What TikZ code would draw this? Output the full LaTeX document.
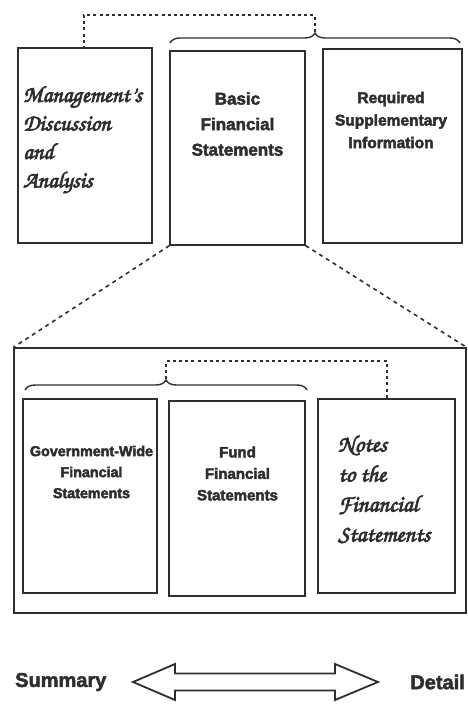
\documentclass[tikz,border=0pt]{standalone}
\usepackage[T1,TU]{fontenc}
\usepackage{fontspec}
\setmainfont{Liberation Sans}
\usetikzlibrary{decorations.pathreplacing}
\definecolor{ink}{HTML}{2E2E2E}
\newcommand{\scriptfnt}{\fontencoding{T1}\fontfamily{pzc}\fontseries{mb}\fontshape{it}\selectfont}
\newcommand{\fakebold}{\special{pdf:literal direct 2 Tr 0.75 w 0.18 0.18 0.18 RG}}
\newcommand{\semibold}{\special{pdf:literal direct 2 Tr 0.45 w 0.18 0.18 0.18 RG}}
\newcommand{\fakeboldoff}{\special{pdf:literal direct 0 Tr}}
\tikzset{
  box/.style={draw=ink, line width=1.3pt, rectangle, inner sep=0pt},
  thickbox/.style={box, line width=2pt},
  sans/.style={text=ink, align=center, inner sep=0pt},
  scr/.style={text=ink, align=left, inner sep=0pt, anchor=west},
  dotline/.style={draw=ink, line width=1.8pt, dash pattern=on 3pt off 3.2pt},
  dashline/.style={draw=ink, line width=1.6pt, dash pattern=on 4pt off 4pt},
  bracestyle/.style={draw=ink, line width=1.4pt, decorate, decoration={brace, amplitude=10pt}},
}
\begin{document}
\begin{tikzpicture}[x=1pt,y=-1pt]
\useasboundingbox (0,0) rectangle (467,704);
% top row boxes
\node[box, minimum width=134pt, minimum height=195pt] (mda) at (85,145.5) {};
\node[box, minimum width=135pt, minimum height=194pt] (basic) at (237.5,148) {};
\node[box, minimum width=139pt, minimum height=194pt] (rsi) at (392.5,146) {};
% texts top
\node[scr, font=\scriptfnt\fontsize{23}{28.5}\selectfont] (mdat) at (23,140) {\fakebold Management's\\\fakebold Discussion\\\fakebold and\\\fakebold Analysis\fakeboldoff};
\node[sans, font=\bfseries\fontsize{17}{25.5}\selectfont] (basict) at (237.5,124) {\semibold Basic\\\semibold Financial\\\semibold Statements\fakeboldoff};
\node[sans, font=\bfseries\fontsize{15.5}{22.5}\selectfont] (rsit) at (391,120) {\semibold Required\\\semibold Supplementary\\\semibold Information\fakeboldoff};
% top brace and dotted link
\coordinate (b1l) at (170,43);
\coordinate (b1r) at (460,43);
\draw[bracestyle] (b1l) -- (b1r);
\coordinate (tip1) at (315,32);
\coordinate (c1) at (315,15);
\coordinate (c2) at (84,15);
\draw[dotline] (tip1) -- (c1) -- (c2) -- (c2 |- mda.north);
% big box
\node[box, minimum width=452pt, minimum height=265pt] (big) at (240,480.5) {};
\draw[dashline] (basic.south west) -- (big.north west);
\draw[dashline] (basic.south east) -- (big.north east);
% lower boxes
\node[box, minimum width=134pt, minimum height=194pt] (gov) at (90,496) {};
\node[thickbox, minimum width=136pt, minimum height=195pt] (fund) at (237,498.5) {};
\node[box, minimum width=137pt, minimum height=194pt] (notes) at (386.5,496) {};
\node[sans, font=\bfseries\fontsize{14.3}{21}\selectfont] (govt) at (91.5,472) {\semibold Government-Wide\\\semibold Financial\\\semibold Statements\fakeboldoff};
\node[sans, font=\bfseries\fontsize{15}{21.5}\selectfont] (fundt) at (237.5,473.5) {\semibold Fund\\\semibold Financial\\\semibold Statements\fakeboldoff};
\node[scr, font=\scriptfnt\fontsize{23.5}{30}\selectfont] (notest) at (338,489) {\fakebold Notes\\\fakebold to the\\\fakebold Financial\\\fakebold Statements\fakeboldoff};
% lower brace and dotted link
\coordinate (b2l) at (25,390);
\coordinate (b2r) at (307,390);
\draw[bracestyle] (b2l) -- (b2r);
\coordinate (tip2) at (166,379);
\coordinate (d1) at (166,361);
\coordinate (d2) at (387,361);
\draw[dotline] (tip2) -- (d1) -- (d2) -- (d2 |- notes.north);
% bottom
\node[text=ink, font=\bfseries\fontsize{20}{24}\selectfont, anchor=west, inner sep=0pt] (sum) at (15,682) {\semibold Summary\fakeboldoff};
\node[text=ink, font=\bfseries\fontsize{20}{24}\selectfont, anchor=east, inner sep=0pt] (det) at (465,682) {\semibold Detail\fakeboldoff};
\coordinate (arc) at (255.5,682);
\draw[ink, line width=1.8pt, line join=miter, fill=white]
  ([shift={(-122.5,0)}]arc) -- ([shift={(-80.5,-18)}]arc) -- ([shift={(-80.5,-8.5)}]arc)
  -- ([shift={(79.5,-8.5)}]arc) -- ([shift={(79.5,-18)}]arc) -- ([shift={(122.5,0)}]arc)
  -- ([shift={(79.5,18)}]arc) -- ([shift={(79.5,8.5)}]arc) -- ([shift={(-80.5,8.5)}]arc)
  -- ([shift={(-80.5,18)}]arc) -- cycle;
\end{tikzpicture}
\end{document}
